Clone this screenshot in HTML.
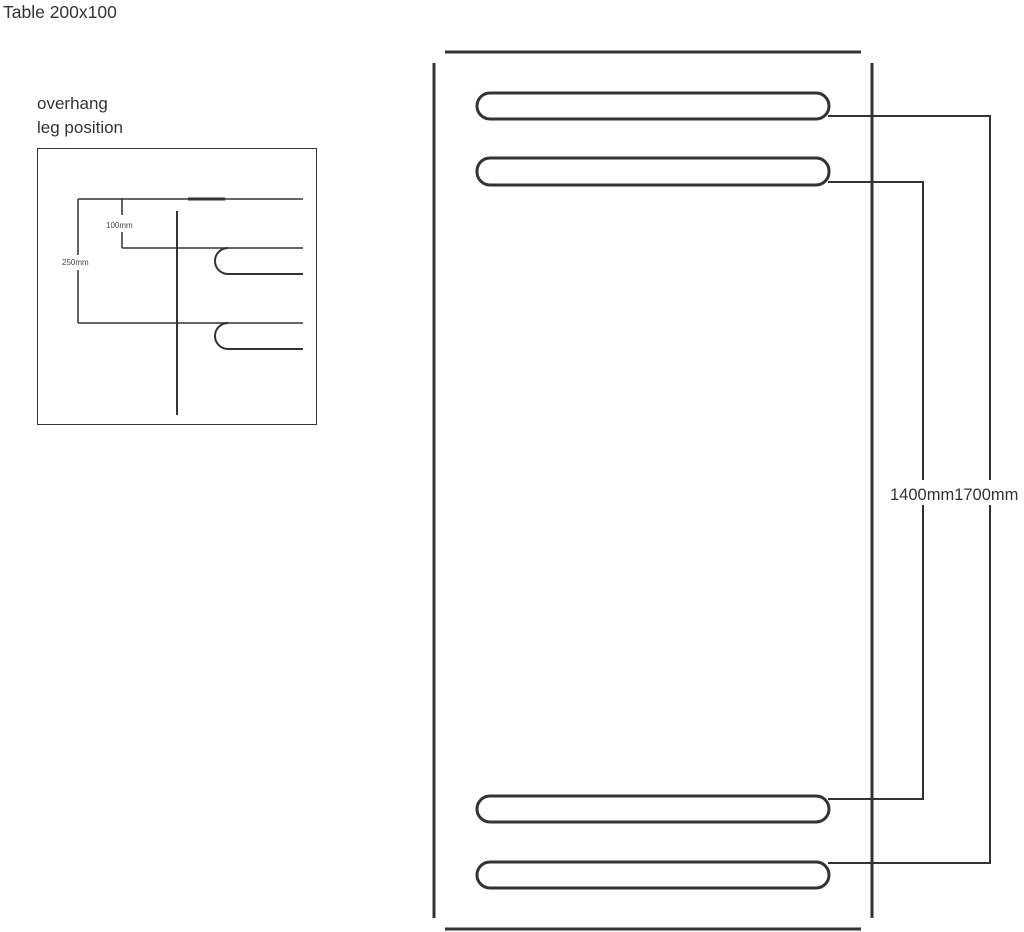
<!DOCTYPE html>
<html><head><style>body{margin:0;background:#fff}svg{display:block}</style></head><body>
<svg width="1024" height="932" xmlns="http://www.w3.org/2000/svg" font-family="Liberation Sans, sans-serif">
<rect width="1024" height="932" fill="#fff"/>
<text x="3" y="18" font-size="17.5" fill="#333">Table 200x100</text>
<text x="37" y="109" font-size="17" fill="#333">overhang</text>
<text x="37" y="133" font-size="17" fill="#333">leg position</text>
<g stroke="#333" fill="none">
<rect x="37.5" y="148.5" width="279" height="276" stroke-width="1"/>
<line x1="78" y1="199" x2="303" y2="199" stroke-width="1.5"/>
<line x1="188" y1="199" x2="225" y2="199" stroke-width="3"/>
<line x1="177" y1="211" x2="177" y2="415" stroke-width="2"/>
<line x1="122" y1="198" x2="122" y2="215" stroke-width="1.5"/>
<line x1="122" y1="232" x2="122" y2="248" stroke-width="1.5"/>
<line x1="122" y1="248" x2="303" y2="248" stroke-width="1.5"/>
<path d="M228 248 A13 13 0 0 0 228 274 L303 274" stroke-width="2"/>
<line x1="78" y1="199" x2="78" y2="255" stroke-width="1.5"/>
<line x1="78" y1="270" x2="78" y2="323" stroke-width="1.5"/>
<line x1="78" y1="323" x2="303" y2="323" stroke-width="1.5"/>
<path d="M228 323 A13 13 0 0 0 228 349 L303 349" stroke-width="2"/>
</g>
<text x="106" y="228" font-size="8" fill="#444">100mm</text>
<text x="62" y="265" font-size="8" fill="#444">250mm</text>
<g stroke="#333" stroke-width="3" fill="none">
<line x1="445" y1="52" x2="861" y2="52"/>
<line x1="445" y1="929" x2="861" y2="929"/>
<line x1="434" y1="63" x2="434" y2="918"/>
<line x1="872" y1="63" x2="872" y2="918"/>
<rect x="477" y="93" width="352" height="26" rx="13"/>
<rect x="477" y="158" width="352" height="27" rx="13"/>
<rect x="477" y="796" width="352" height="26" rx="13"/>
<rect x="477" y="862" width="352" height="26" rx="13"/>
</g>
<g stroke="#333" stroke-width="2" fill="none">
<polyline points="828,116 990,116 990,480"/>
<polyline points="990,505 990,863 828,863"/>
<polyline points="828,182 923,182 923,480"/>
<polyline points="923,505 923,799 828,799"/>
</g>
<text x="890" y="500" font-size="16.5" fill="#333">1400mm1700mm</text>
</svg>
</body></html>
